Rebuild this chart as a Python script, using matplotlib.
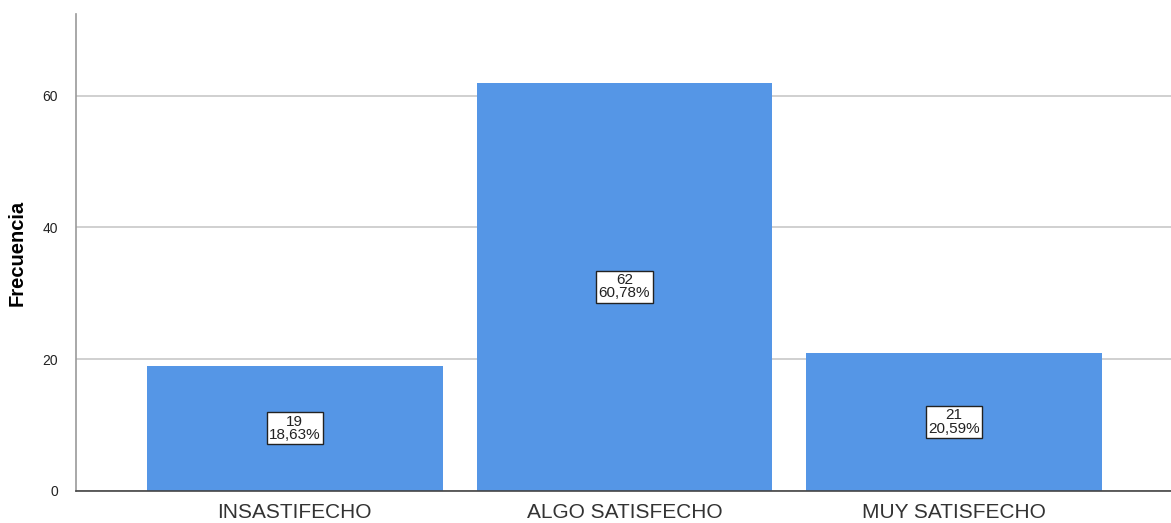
import matplotlib.pyplot as plt
import numpy as np

plt.rcParams["font.family"] = ["Liberation Sans", "DejaVu Sans"]

categories = ["INSASTIFECHO", "ALGO SATISFECHO", "MUY SATISFECHO"]
counts = [19, 62, 21]
percents = ["18,63%", "60,78%", "20,59%"]
y_ticks = [0, 20, 40, 60]

bar_color = "#5596E6"

fig = plt.figure(figsize=(11.71, 5.23), dpi=100)
ax = fig.add_axes([76 / 1171, 32 / 523, 1 - 76 / 1171, 477 / 523])

x = np.arange(len(categories))
ax.bar(x, counts, width=0.897, color=bar_color, edgecolor="none", zorder=2)

for xi, c, p in zip(x, counts, percents):
    ax.text(xi, c / 2, f"{c}\n{p}", ha="center", va="center", fontsize=11,
            linespacing=0.95, color="#222222", zorder=3,
            bbox=dict(boxstyle="square,pad=0.15", facecolor="white",
                      edgecolor="#222222", linewidth=1))

ax.set_xlim(-0.664, 2.658)
ax.set_ylim(0, 72.4)
ax.set_yticks(y_ticks)
ax.set_xticks(x)
ax.set_xticklabels(categories, fontsize=15, color="#333333")
ax.tick_params(axis="both", length=0)
ax.tick_params(axis="y", labelsize=10, pad=13, labelcolor="#222222")
ax.tick_params(axis="x", pad=9)
ax.yaxis.grid(True, color="#c8c8c8", linewidth=1.2, zorder=0)
ax.set_axisbelow(True)

for side in ["top", "right"]:
    ax.spines[side].set_visible(False)
ax.spines["left"].set_color("#999999")
ax.spines["left"].set_linewidth(1.2)
ax.spines["bottom"].set_color("#444444")
ax.spines["bottom"].set_linewidth(1.2)

ax.set_ylabel("Frecuencia", fontsize=14.5, fontweight="bold", labelpad=11)

fig.savefig("out.png", dpi=100)
